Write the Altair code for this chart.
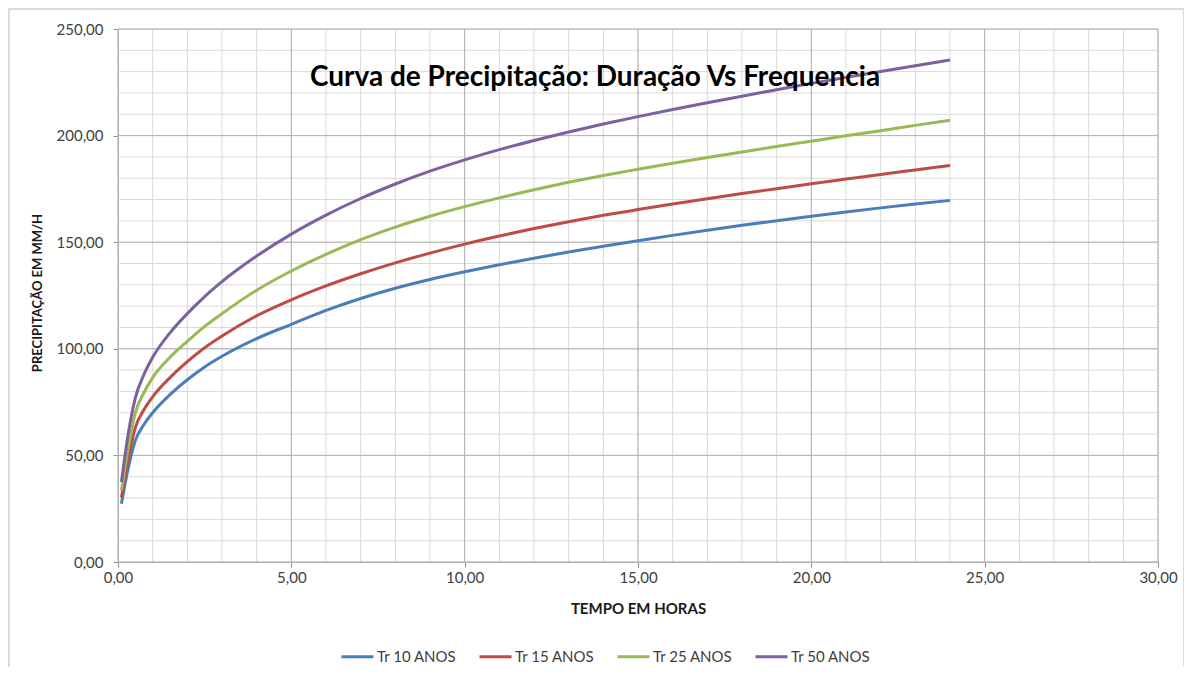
import altair as alt
import pandas as pd

# ---- data ----
hours = [0.1, 0.25, 0.5, 0.75, 1, 1.5, 2, 2.5, 3, 4, 5, 6, 7, 8, 9, 10, 11, 12,
         13, 14, 15, 16, 17, 18, 19, 20, 21, 22, 23, 24]
tr10 = [27.3, 40.5, 57.0, 64.5, 70.0, 78.5, 85.5, 91.5, 96.5, 104.8, 111.5, 118.0,
        123.6, 128.4, 132.5, 136.1, 139.4, 142.5, 145.4, 148.1, 150.7, 153.2, 155.6,
        157.9, 160.1, 162.2, 164.2, 166.1, 167.9, 169.6]
tr15 = [30.2, 44.5, 63.0, 71.5, 77.5, 86.5, 94.0, 100.5, 106.0, 115.5, 123.0, 129.5,
        135.2, 140.3, 144.9, 149.1, 152.9, 156.4, 159.6, 162.6, 165.3, 167.9, 170.4,
        172.8, 175.1, 177.4, 179.6, 181.8, 183.9, 186.0]
tr25 = [33.6, 49.0, 70.0, 79.5, 86.5, 96.0, 103.5, 110.5, 116.5, 127.5, 136.5, 144.3,
        151.2, 157.1, 162.2, 166.7, 170.8, 174.6, 178.1, 181.3, 184.2, 187.0, 189.7,
        192.3, 194.9, 197.4, 199.9, 202.3, 204.8, 207.2]
tr50 = [37.5, 55.5, 77.0, 88.0, 96.0, 107.5, 116.5, 124.5, 131.5, 143.5, 153.8, 162.7,
        170.5, 177.3, 183.3, 188.6, 193.4, 197.7, 201.7, 205.4, 208.9, 212.2, 215.4,
        218.5, 221.5, 224.5, 227.3, 230.1, 232.8, 235.5]
series_names = ["Tr 10 ANOS", "Tr 15 ANOS", "Tr 25 ANOS", "Tr 50 ANOS"]
series_colors = ["#4A7EBB", "#BE4B48", "#98B954", "#7D60A0"]
chart_title = "Curva de Precipitação: Duração Vs Frequencia"

x_ticks = [0, 5, 10, 15, 20, 25, 30]
y_ticks = [0, 50, 100, 150, 200, 250]
x_minor = list(range(0, 31))
y_minor = list(range(0, 251, 10))

rows = []
for name, vals in zip(series_names, [tr10, tr15, tr25, tr50]):
    for t, v in zip(hours, vals):
        rows.append({"t": t, "v": v, "serie": name})
df = pd.DataFrame(rows)

W, H = 1040, 533
FONT = "Lato"
xs = alt.Scale(domain=[0, 30], nice=False, zero=True)
ys = alt.Scale(domain=[0, 250], nice=False, zero=True)

fmt = "replace(format(datum.value, '.2f'), '.', ',')"

x_axis = alt.Axis(values=x_ticks, labelExpr=fmt, grid=False, title="TEMPO EM HORAS",
                  tickSize=5, tickColor="#8c8c8c", domainColor="#8c8c8c", labelFlush=False,
                  labelPadding=3, labelFontSize=15, labelColor="#404040", labelFont=FONT,
                  titleFont=FONT, titleFontSize=15, titleFontWeight="bold",
                  titleColor="#1a1a1a", titleY=46, titleBaseline="middle")
y_axis = alt.Axis(values=y_ticks, labelExpr=fmt, grid=False, title="PRECIPITAÇÃO EM MM/H",
                  tickSize=5, tickColor="#8c8c8c", domainColor="#8c8c8c", labelFlush=False,
                  labelPadding=10, labelFontSize=15, labelColor="#404040", labelFont=FONT,
                  titleFont=FONT, titleFontSize=13, titleFontWeight="bold",
                  titleColor="#1a1a1a", titleX=-81, titleY=263.5,
                  titleAlign="center", titleBaseline="middle", titleAngle=270)

xminor = alt.Chart(pd.DataFrame({"g": x_minor})).mark_rule(color="#d9d9d9", strokeWidth=1).encode(
    x=alt.X("g:Q", scale=xs, axis=x_axis))
yminor = alt.Chart(pd.DataFrame({"g": y_minor})).mark_rule(color="#d9d9d9", strokeWidth=1).encode(
    y=alt.Y("g:Q", scale=ys, axis=y_axis))
xmajor = alt.Chart(pd.DataFrame({"g": x_ticks})).mark_rule(color="#b3b3b3", strokeWidth=1).encode(
    x=alt.X("g:Q", scale=xs, axis=x_axis))
ymajor = alt.Chart(pd.DataFrame({"g": y_ticks})).mark_rule(color="#b3b3b3", strokeWidth=1).encode(
    y=alt.Y("g:Q", scale=ys, axis=y_axis))

border = alt.Chart(alt.Data(values=[{}])).mark_rect(
    fill=None, stroke="#d0d0d0", strokeWidth=1.5).encode(
    x=alt.value(-109), x2=alt.value(1066), y=alt.value(-20), y2=alt.value(664))

lines = alt.Chart(df).mark_line(strokeWidth=3, interpolate="monotone").encode(
    x=alt.X("t:Q", scale=xs, axis=x_axis),
    y=alt.Y("v:Q", scale=ys, axis=y_axis),
    color=alt.Color("serie:N", scale=alt.Scale(domain=series_names, range=series_colors),
                    legend=alt.Legend(title=None, orient="none", legendX=222, legendY=610,
                                      direction="horizontal", symbolType="stroke",
                                      symbolSize=1024, symbolStrokeWidth=3,
                                      labelFont=FONT, labelFontSize=15, labelColor="#404040",
                                      labelOffset=2, columnPadding=16)),
    order=alt.Order("t:Q"),
)

title_text = alt.Chart(alt.Data(values=[{}])).mark_text(
    font=FONT, fontSize=28, fontWeight="bold", color="#000000",
    align="center", baseline="middle").encode(
    x=alt.value(477), y=alt.value(49), text=alt.value(chart_title))

chart = alt.layer(border, xminor, yminor, xmajor, ymajor, lines, title_text).properties(
    width=W, height=H,
    autosize=alt.AutoSizeParams(type="none"),
    padding={"left": 110, "top": 21, "right": 26, "bottom": 105},
).configure_view(stroke=None).configure(background="white")

chart.save("out.html", embed_options={"renderer": "svg", "actions": False})
